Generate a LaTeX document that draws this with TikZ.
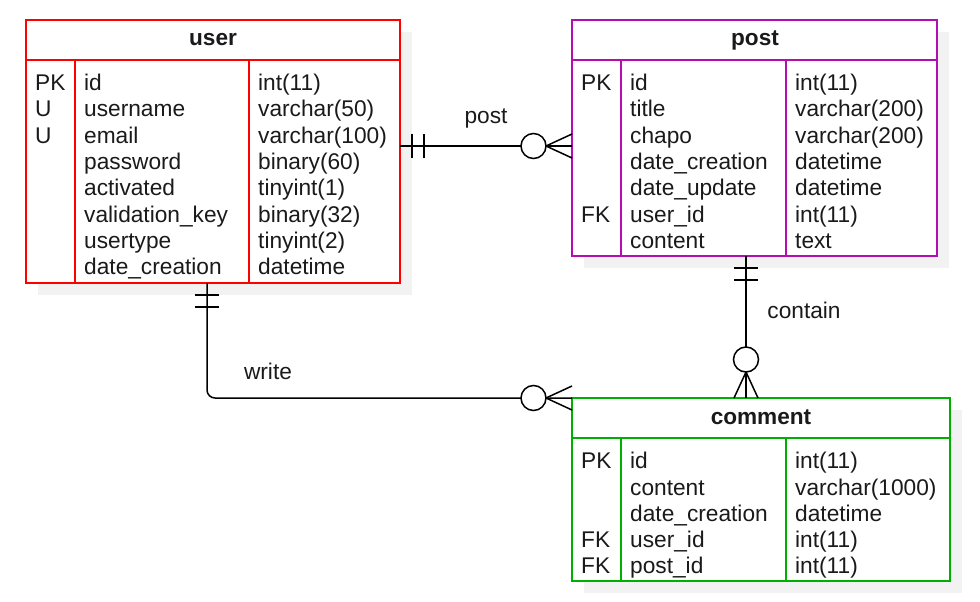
\documentclass[tikz,border=0pt]{standalone}
\usepackage{fontspec}
\setmainfont{Liberation Sans}
\usetikzlibrary{decorations.markings}
\definecolor{userred}{RGB}{255,0,0}
\definecolor{postpurple}{RGB}{178,14,178}
\definecolor{commentgreen}{RGB}{0,176,0}
\definecolor{shadowgray}{RGB}{242,242,242}
\definecolor{inkgray}{RGB}{26,26,26}

\tikzset{
  tbl/.style={draw=#1, fill=white, line width=1.5pt, outer sep=0pt, inner sep=0pt, anchor=north west},
  hdr/.style={font=\bfseries\fontsize{22.6}{26.3}\selectfont, text=inkgray, anchor=base, inner sep=0pt},
  cell/.style={font=\fontsize{22.7}{26.3}\selectfont, text=inkgray, anchor=base west, inner sep=0pt},
  rel/.style={font=\fontsize{22.7}{26.3}\selectfont, text=inkgray, inner sep=0pt},
  erline/.style={line width=1.5pt},
  onetomany/.style={erline, postaction={decorate}, decoration={markings,
      mark=at position 12pt with {\draw[erline] (0pt,-12pt) -- (0pt,12pt);},
      mark=at position 24pt with {\draw[erline] (0pt,-12pt) -- (0pt,12pt);},
      mark=at position 1 with {\draw[erline] (-26pt,0pt) -- (0pt,12pt) (-26pt,0pt) -- (0pt,-12pt);
        \draw[erline, fill=white] (-38.5pt,0pt) circle (12.5pt);}}}
}

\begin{document}
\begin{tikzpicture}[x=1pt, y=-1pt]
\useasboundingbox (0,0) rectangle (980,602);
% shadows
\fill[shadowgray] (38,32) rectangle (412,295);
\fill[shadowgray] (584,32) rectangle (949,268);
\fill[shadowgray] (584,410) rectangle (962,593);

% user
\node[tbl=userred, minimum width=374pt, minimum height=263pt] (user) at (26,20) {};
\draw[userred, line width=1.5pt] (26,60) -- (400,60) (75,60) -- (75,283) (249,60) -- (249,283);
\node[hdr] (user-h) at (213,46) {user};
\foreach \ky/\fd/\ty [count=\i from 0] in {PK/id/int(11), U/username/varchar(50), U/email/varchar(100), {}/password/binary(60), {}/activated/tinyint(1), {}/validation\_key/binary(32), {}/usertype/tinyint(2), {}/date\_creation/datetime} {
  \node[cell] (user-k\i) at (35,{90.7+26.3*\i}) {\ky};
  \node[cell] (user-f\i) at (84,{90.7+26.3*\i}) {\fd};
  \node[cell] (user-t\i) at (258,{90.7+26.3*\i}) {\ty};
}

% post
\node[tbl=postpurple, minimum width=365pt, minimum height=236pt] (post) at (572,20) {};
\draw[postpurple, line width=1.5pt] (572,60) -- (937,60) (621,60) -- (621,256) (786,60) -- (786,256);
\node[hdr] (post-h) at (755,46) {post};
\foreach \ky/\fd/\ty [count=\i from 0] in {PK/id/int(11), {}/title/varchar(200), {}/chapo/varchar(200), {}/date\_creation/datetime, {}/date\_update/datetime, FK/user\_id/int(11), {}/content/text} {
  \node[cell] (post-k\i) at (581,{90.7+26.3*\i}) {\ky};
  \node[cell] (post-f\i) at (630,{90.7+26.3*\i}) {\fd};
  \node[cell] (post-t\i) at (795,{90.7+26.3*\i}) {\ty};
}

% comment
\node[tbl=commentgreen, minimum width=378pt, minimum height=183pt] (comment) at (572,398) {};
\draw[commentgreen, line width=1.5pt] (572,438) -- (950,438) (621,438) -- (621,581) (786,438) -- (786,581);
\node[hdr] (comment-h) at (761,424) {comment};
\foreach \ky/\fd/\ty [count=\i from 0] in {PK/id/int(11), {}/content/varchar(1000), {}/date\_creation/datetime, FK/user\_id/int(11), FK/post\_id/int(11)} {
  \node[cell] (comment-k\i) at (581,{468.7+26.3*\i}) {\ky};
  \node[cell] (comment-f\i) at (630,{468.7+26.3*\i}) {\fd};
  \node[cell] (comment-t\i) at (795,{468.7+26.3*\i}) {\ty};
}

% relations
\draw[onetomany] ([yshift=-126pt]user.north east) -- ([yshift=-126pt]post.north west);
\draw[onetomany] ([xshift=174pt]post.south west) -- ([xshift=174pt]comment.north west);
\draw[onetomany, rounded corners=8pt] ([xshift=181pt]user.south west) |- (comment.north west);
\node[rel] (post-l) at (486,119) {post};
\node[rel] (contain-l) at (804,310) {contain};
\node[rel] (write-l) at (268,371) {write};
\end{tikzpicture}
\end{document}
